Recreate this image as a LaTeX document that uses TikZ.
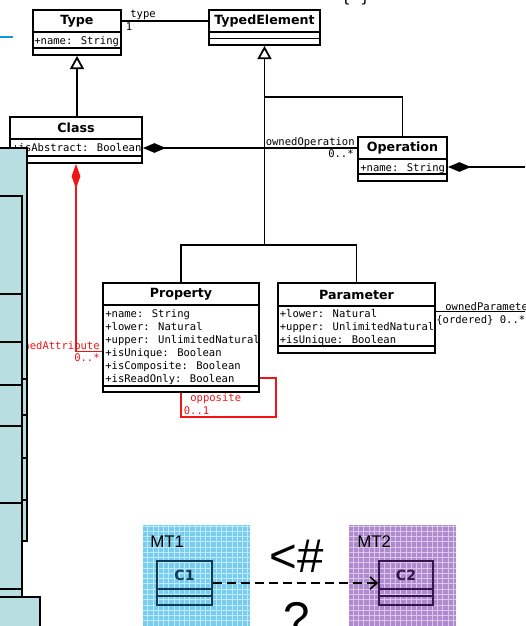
\documentclass[tikz,border=0pt]{standalone}
\usepackage{fontspec}
\usetikzlibrary{arrows.meta,fit,patterns}
\newfontfamily\umlmono{DejaVu Sans Mono}
\newfontfamily\umlsans{DejaVu Sans}
\newfontfamily\mtsans{Liberation Sans}
\definecolor{panelblue}{RGB}{185,222,226}
\definecolor{umlred}{RGB}{240,20,20}
\definecolor{mtblue}{RGB}{120,205,238}
\definecolor{mtbluelight}{RGB}{190,234,250}
\definecolor{mtpurple}{RGB}{175,138,205}
\definecolor{mtpurplelight}{RGB}{218,198,234}
\definecolor{cteal}{RGB}{15,60,85}
\definecolor{cplum}{RGB}{55,20,75}
\definecolor{linkblue}{RGB}{20,150,220}
\def\umlclass[#1](#2)(#3,#4)(#5,#6)(#7,#8){%
	\node[umlbox,#1,fit={(#3,#4) (#5,#6)}] (#2) {};
	\draw[umlline,#1] (#2.west |- 0,#7) -- (#2.east |- 0,#7);
	\draw[umlline,#1] (#2.west |- 0,#8) -- (#2.east |- 0,#8);}

\begin{document}
\begin{tikzpicture}[x=0.02cm, y=-0.02cm,
	umlline/.style={line width=1.1pt},
	umlbox/.style={draw, umlline, inner sep=0pt},
	umltitle/.style={font=\umlsans\bfseries\fontsize{7.2}{8}\selectfont, inner sep=0pt},
	umlattr/.style={font=\umlmono\fontsize{6}{7}\selectfont, inner sep=0pt, anchor=base west},
	umllabel/.style={umlattr},
	umlassoc/.style={line width=1pt},
	umlgen/.style={umlassoc, -{Triangle[open, length=7.5pt, width=8pt]}},
	umlcomp/.style={umlassoc, -{Diamond[length=13pt, width=5.5pt]}},
	redline/.style={umlassoc, umlred},
	redcomp/.style={redline, -{Diamond[length=14pt, width=5pt]}},
	mtlabel/.style={font=\mtsans\fontsize{9.6}{11}\selectfont, inner sep=0pt, anchor=base west},
	mtbig/.style={font=\mtsans\fontsize{27}{30}\selectfont, inner sep=0pt, anchor=base},
	ctitle/.style={font=\umlsans\bfseries\fontsize{8}{9}\selectfont, inner sep=0pt},
	mtdep/.style={line width=0.9pt, dash pattern=on 5pt off 3pt, -{Straight Barb[length=4pt, width=7pt]}}]
	%%%%% START %%%%%
	
	\useasboundingbox (0,0) rectangle (525,626);
	\clip (0,0) rectangle (525,626);
	
	\draw[linkblue, line width=1.1pt] (0,37) -- (13,37);
	\node[font=\umlmono\fontsize{9}{10}\selectfont, inner sep=0pt, anchor=base] (brace) at (355.5,2) {\{ \}};
	
	\umlclass[draw=black](type)(33,10)(121,55)(32,48)
	\node[umltitle] (typet) at (77,21) {Type};
	\node[umlattr] (typea) at (34,44) {+name: String};
	
	\umlclass[draw=black](te)(209,10)(320,45)(32,38.5)
	\node[umltitle] (tet) at (264.5,21) {TypedElement};
	
	\umlclass[draw=black](class)(10,117)(142,163)(139,156)
	\node[umltitle] (classt) at (76,128) {Class};
	\node[umlattr] (classa) at (12,151.5) {+isAbstract: Boolean};
	
	\umlclass[draw=black](op)(358,137)(447,181)(159,174)
	\node[umltitle] (opt) at (402.5,148) {Operation};
	\node[umlattr] (opa) at (360,171) {+name: String};
	
	\umlclass[draw=black](prop)(103,283)(259,392)(305,386)
	\node[umltitle] (propt) at (181,294) {Property};
	\node[umlattr] (propa1) at (105,317) {+name: String};
	\node[umlattr] (propa2) at (105,330) {+lower: Natural};
	\node[umlattr] (propa3) at (105,343) {+upper: UnlimitedNatural};
	\node[umlattr] (propa4) at (105,356) {+isUnique: Boolean};
	\node[umlattr] (propa5) at (105,369) {+isComposite: Boolean};
	\node[umlattr] (propa6) at (105,382) {+isReadOnly: Boolean};
	
	\umlclass[draw=black](param)(278,283)(435,353)(306,346)
	\node[umltitle] (paramt) at (356.5,294.5) {Parameter};
	\node[umlattr] (parama1) at (279.5,317) {+lower: Natural};
	\node[umlattr] (parama2) at (279.5,330) {+upper: UnlimitedNatural};
	\node[umlattr] (parama3) at (279.5,343) {+isUnique: Boolean};
	
	% type association
	\draw[umlassoc] (type.east |- typet) -- (te.west |- tet);
	\node[umllabel] (typelbl) at (130,17.5) {type};
	\node[umllabel] (typemul) at (125.5,30.5) {1};
	
	% generalizations
	\draw[umlgen] (class.north -| type.south) -- (type.south);
	\coordinate (genj) at (264.5,245);
	\coordinate (opj) at (264.5,97);
	\draw[umlassoc] (prop.north) |- (genj) -| (param.north);
	\draw[umlassoc] (op.north) |- (opj);
	\draw[umlgen] (genj) -- (te.south);
	
	% compositions
	\draw[umlcomp] (op.west |- opt) -- (class.east |- opt);
	\node[umllabel, anchor=base east] (oplbl) at (355,145) {ownedOperation};
	\node[umllabel, anchor=base east] (opmul) at (354,157) {0..*};
	
	\coordinate (opout) at (530,167);
	\draw[umlcomp] (opout) -- (op.east |- opout);
	
	\coordinate (paramout) at (530,311.5);
	\draw[umlassoc] (param.east |- paramout) -- (paramout);
	\node[umllabel] (paramlbl) at (445,310) {ownedParameter};
	\node[umllabel] (parammul) at (436,323.5) {\{ordered\} 0..*};
	
	\draw[redcomp] (prop.west |- 0,351.5) -| (class.south);
	\node[umllabel, umlred, anchor=base east] (attrlbl) at (100,349.5) {ownedAttribute};
	\node[umllabel, umlred, anchor=base east] (attrmul) at (100,361.5) {0..*};
	
	\coordinate (oppc) at (276,417);
	\draw[redline] (prop.east |- 0,378) -| (oppc) -| (prop.south);
	\node[umllabel, umlred] (opplbl) at (190,401.5) {opposite};
	\node[umllabel, umlred] (oppmul) at (183.5,414) {0..1};
	
	% left panel
	\fill[panelblue] (-5,148) rectangle (27,541);
	\fill[panelblue] (-5,541) rectangle (22,597);
	\draw[line width=1.1pt] (-5,148) -- (27,148) -- (27,541) -- (22,541);
	\draw[line width=1.1pt] (-5,196) -- (22,196) -- (22,597);
	\draw[line width=1.1pt] (-5,294) -- (22,294);
	\draw[line width=1.1pt] (-5,342) -- (22,342);
	\draw[line width=1.1pt] (-5,385) -- (22,385);
	\draw[line width=1.1pt] (-5,426) -- (22,426);
	\draw[line width=1.1pt] (-5,503) -- (22,503);
	\draw[line width=1.1pt] (-5,589) -- (22,589);
	\draw[line width=0.8pt] (22,379) -- (27,379);
	\draw[line width=0.8pt] (22,415) -- (27,415);
	\draw[line width=0.8pt] (22,458) -- (27,458);
	\draw[line width=0.8pt] (22,500) -- (27,500);
	\draw[line width=1.1pt, fill=panelblue] (-5,597) rectangle (40,640);
	
	% MT1 and MT2
	\node[fit={(143,525) (250,640)}, inner sep=0pt, fill=mtblue, postaction={pattern=grid, pattern color=mtbluelight}] (mt1) {};
	\node[mtlabel] (mt1lbl) at (150,547) {MT1};
	\umlclass[draw=cteal, line width=0.9pt](c1)(157,561)(212,605)(589,596)
	\node[ctitle, cteal] (c1t) at (184.5,575) {C1};
	
	\node[fit={(349,525) (456,640)}, inner sep=0pt, fill=mtpurple, postaction={pattern=grid, pattern color=mtpurplelight}] (mt2) {};
	\node[mtlabel] (mt2lbl) at (357,547) {MT2};
	\umlclass[draw=cplum, line width=0.9pt](c2)(379,561)(433,605)(589,596)
	\node[ctitle, cplum] (c2t) at (406,575) {C2};
	
	\draw[mtdep] (c1) -- (c2);
	\node[mtbig] (nsub) at (297,572) {<\#};
	\node[mtbig] (qmark) at (297,635) {?};
	
	%%%%% END %%%%%
\end{tikzpicture}
\end{document}
